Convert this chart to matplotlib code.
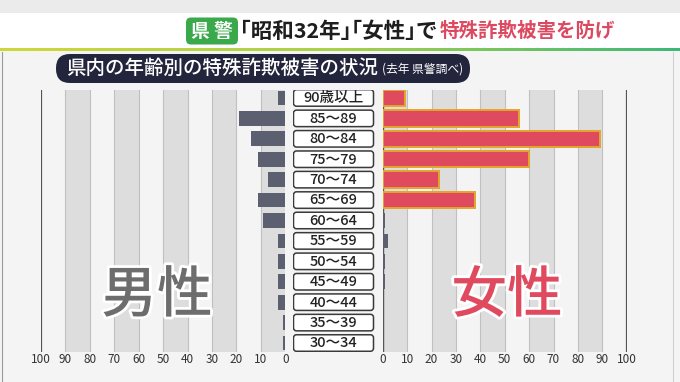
import matplotlib
matplotlib.use("Agg")
import matplotlib.pyplot as plt
import numpy as np
from matplotlib.patches import FancyBboxPatch, Rectangle
from matplotlib.colors import LinearSegmentedColormap
import matplotlib.patheffects as pe

plt.rcParams['font.family'] = ['Noto Sans CJK JP', 'DejaVu Sans']

# ---- data ----
age_groups = ["90歳以上", "85～89", "80～84", "75～79", "70～74", "65～69", "60～64",
              "55～59", "50～54", "45～49", "40～44", "35～39", "30～34"]
male_counts = [3, 19, 14, 11, 7, 11, 9, 3, 3, 3, 3, 1, 1]
female_counts = [9, 56, 89, 60, 23, 38, 1, 2, 1, 1, 0, 0, 0]
x_ticks = list(range(0, 101, 10))
title_tag = "県 警"
title_black = "｢昭和32年｣｢女性｣で"
title_red = "特殊詐欺被害を防げ"
subtitle = "県内の年齢別の特殊詐欺被害の状況"
subtitle_note = "(去年 県警調べ)"

W, H = 680, 382
BG = '#f4f4f4'
BAND = '#dddddd'
MALE_C = '#5b5f70'
FEMALE_C = '#e04a5f'
FEMALE_EDGE = '#e3a52a'
RED_TXT = '#dc4a62'

fig = plt.figure(figsize=(W / 100, H / 100), dpi=100, facecolor=BG)

# background / header axes in pixel coordinates
bg = fig.add_axes([0, 0, 1, 1], zorder=0)
bg.set_xlim(0, W); bg.set_ylim(H, 0); bg.axis('off')
bg.add_patch(Rectangle((0, 0), W, 13, color='#ebebeb', lw=0))
bg.add_patch(Rectangle((0, 13), W, 36, color='white', lw=0))
grad = np.linspace(0, 1, 256).reshape(1, -1)
cmap = LinearSegmentedColormap.from_list('g', ['#cfd83a', '#a8d04a', '#3cb878'])
bg.imshow(grad, cmap=cmap, extent=(0, W, 51.5, 48.5), aspect='auto', zorder=1)
bg.plot([2, 2], [52, H], color='#9a9a9a', lw=0.8)
bg.plot([673, 673], [52, H], color='#d0d0d0', lw=0.8)

# green tag
bg.add_patch(FancyBboxPatch((186, 17.5), 52, 27, boxstyle="round,pad=0,rounding_size=5",
                            fc='#3aa94b', ec='none', zorder=2))
bg.text(212, 31.5, title_tag, color='white', fontsize=13.5, fontweight='bold',
        ha='center', va='center', zorder=3)
bg.text(240, 31.5, title_black, color='#1e1e1e', fontsize=15.5, fontweight='bold',
        ha='left', va='center', zorder=3)
bg.text(440, 31.5, title_red, color=RED_TXT, fontsize=14, fontweight='bold',
        ha='left', va='center', zorder=3)

# subtitle pill
bg.add_patch(FancyBboxPatch((56, 54), 414, 29, boxstyle="round,pad=0,rounding_size=14",
                            fc='#23253d', ec='none', zorder=2))
bg.text(66, 68.5, subtitle, color='white', fontsize=14, fontweight='medium',
        ha='left', va='center', zorder=3)
bg.text(463, 69.5, subtitle_note, color='white', fontsize=8.5,
        ha='right', va='center', zorder=3)

# chart axes
top_px, bot_px = 90, 352
ylim = (12.44, -0.39)
def fx(x): return x / W
def fy(y): return 1 - y / H

axL = fig.add_axes([fx(41), fy(bot_px), (285.3 - 41) / W, (bot_px - top_px) / H], zorder=1)
axR = fig.add_axes([fx(382.7), fy(bot_px), (626.7 - 382.7) / W, (bot_px - top_px) / H], zorder=1)

ypos = np.arange(len(age_groups))
for ax in (axL, axR):
    ax.set_facecolor('none')
    ax.set_xlim(0, 100)
    ax.set_ylim(*ylim)
    for s in ax.spines.values():
        s.set_visible(False)
    for b in range(0, 100, 20):
        ax.axvspan(b, b + 10, color=BAND, lw=0, zorder=0)
        ax.axvline(b, color='#c0c0c0', lw=0.8, zorder=0.5)
        ax.axvline(b + 10, color='#c0c0c0', lw=0.8, zorder=0.5)
    ax.axvline(100, color='#555555', lw=1.6, zorder=1)
    ax.set_yticks([])
    ax.set_xticks(x_ticks)
    ax.set_xticklabels([str(t) for t in x_ticks])
    ax.tick_params(axis='x', length=0, labelsize=8.5, colors='#333333', pad=1)

axL.invert_xaxis()
axL.set_ylim(*ylim)

axL.barh(ypos, male_counts, height=0.72, color=MALE_C, lw=0, zorder=3)

axR.axvline(0, color='#555555', lw=1.0, zorder=2)
f_colors = [FEMALE_C if v >= 5 else MALE_C for v in female_counts]
f_edges = [FEMALE_EDGE if v >= 5 else 'none' for v in female_counts]
f_heights = [0.8 if v >= 5 else 0.72 for v in female_counts]
axR.barh(ypos, female_counts, height=f_heights, color=f_colors, edgecolor=f_edges,
         lw=1.4, zorder=3)

# center label boxes
axM = fig.add_axes([fx(292.5), fy(bot_px), 82 / W, (bot_px - top_px) / H], zorder=2)
axM.set_xlim(0, 82)
axM.set_ylim(*ylim)
axM.axis('off')
row_px = (bot_px - top_px) / (ylim[0] - ylim[1])
for i, lab in enumerate(age_groups):
    bh = 16.5 / row_px
    axM.add_patch(FancyBboxPatch((1, i - bh / 2), 80, bh,
                                 boxstyle="round,pad=0,rounding_size=3",
                                 mutation_aspect=1 / row_px,
                                 fc='white', ec='#3a3a3a', lw=1.1))
    axM.text(41, i + 0.02, lab, ha='center', va='center', fontsize=10.5,
             fontweight='medium', color='#222222')

# overlay big texts
ov = fig.add_axes([0, 0, 1, 1], zorder=5)
ov.set_xlim(0, W); ov.set_ylim(H, 0); ov.axis('off'); ov.patch.set_alpha(0)
ov.text(157, 296, "男性", fontsize=40, color='#6d6d6d', ha='center', va='center',
        fontweight='medium',
        path_effects=[pe.withStroke(linewidth=4, foreground='white')])
ov.text(507, 296, "女性", fontsize=40, color=FEMALE_C, ha='center', va='center',
        fontweight='medium',
        path_effects=[pe.withStroke(linewidth=4, foreground='white')])

fig.savefig('out.png', dpi=100, facecolor=BG)
